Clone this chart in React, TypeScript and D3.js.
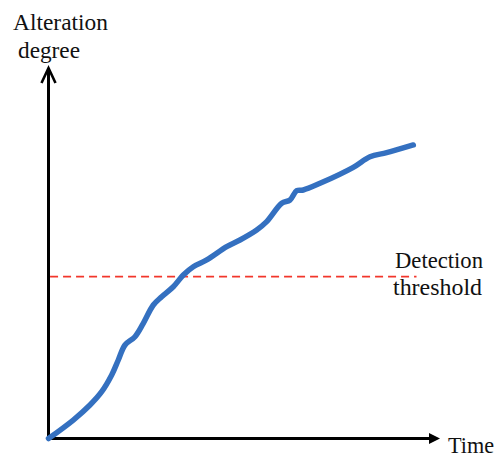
import React from "react";
import * as d3 from "d3";

const timeValues = [0, 0.633, 1.06, 1.359, 1.614, 1.783, 1.954, 2.209, 2.421, 2.677, 2.891, 3.188, 3.443, 3.699, 4.041, 4.552, 4.891, 5.318, 5.573, 5.957, 6.169, 6.34, 6.508, 6.935, 7.785, 8.212, 8.638, 9.318];
const alterationValues = [0, 0.499, 0.904, 1.263, 1.714, 2.119, 2.524, 2.748, 3.109, 3.603, 3.827, 4.097, 4.413, 4.637, 4.818, 5.177, 5.358, 5.628, 5.852, 6.348, 6.437, 6.688, 6.707, 6.888, 7.32, 7.606, 7.714, 7.922];
const thresholdValue = [4.367];
const thresholdSpan = [0.04, 9.4];
const yAxisLabel = ["Alteration", "degree"];
const thresholdLabel = ["Detection", "threshold"];
const xAxisLabel = ["Time"];

export default function App() {
  const W = 499, H = 458;
  const x = d3.scaleLinear().domain([0, 10]).range([48.5, 440]);
  const y = d3.scaleLinear().domain([0, 10]).range([438.5, 68]);
  const pts: [number, number][] = timeValues.map((t, i) => [t, alterationValues[i]]);
  const line = d3
    .line<[number, number]>()
    .x((d) => x(d[0]))
    .y((d) => y(d[1]))
    .curve(d3.curveCatmullRom.alpha(0.5));
  const textStyle: React.CSSProperties = {
    fontFamily: '"Liberation Serif", "Times New Roman", "DejaVu Serif", "Noto Serif", serif',
    fontSize: "22.5px",
  };
  const x0 = x(0), y0 = y(0);
  const yTop = y(10), xEnd = x(10);
  const la = "spacingAndGlyphs";
  return (
    <svg width={W} height={H} style={{ position: "absolute", left: 0, top: 0, background: "#fff" }}>
      <rect x={0} y={0} width={W} height={H} fill="#fff" />
      <line
        x1={x(thresholdSpan[0])}
        x2={x(thresholdSpan[1])}
        y1={y(thresholdValue[0])}
        y2={y(thresholdValue[0])}
        stroke="#f2362b"
        strokeWidth={1.8}
        strokeDasharray="8 5"
      />
      <line x1={x0} x2={x0} y1={y0 + 1.5} y2={yTop + 1} stroke="#000" strokeWidth={3} />
      <polyline
        points={`${x0 - 7},${yTop + 15} ${x0},${yTop} ${x0 + 7},${yTop + 15}`}
        fill="none"
        stroke="#000"
        strokeWidth={2.6}
      />
      <line x1={x0 - 1.5} x2={xEnd - 8} y1={y0} y2={y0} stroke="#000" strokeWidth={3} />
      <polygon
        points={`${xEnd - 11},${y0 - 5.5} ${xEnd},${y0} ${xEnd - 11},${y0 + 5.5}`}
        fill="#000"
      />
      <path
        d={line(pts) || ""}
        fill="none"
        stroke="#3470c0"
        strokeWidth={5.5}
        strokeLinecap="round"
        strokeLinejoin="round"
      />
      <g style={textStyle} fill="#111">
        <text x={13} y={30} textLength={95} lengthAdjust={la}>{yAxisLabel[0]}</text>
        <text x={18} y={58} textLength={62} lengthAdjust={la}>{yAxisLabel[1]}</text>
        <text x={395} y={268} textLength={88} lengthAdjust={la}>{thresholdLabel[0]}</text>
        <text x={393} y={295} textLength={89} lengthAdjust={la}>{thresholdLabel[1]}</text>
        <text x={448} y={452.5} textLength={46} lengthAdjust={la}>{xAxisLabel[0]}</text>
      </g>
    </svg>
  );
}
